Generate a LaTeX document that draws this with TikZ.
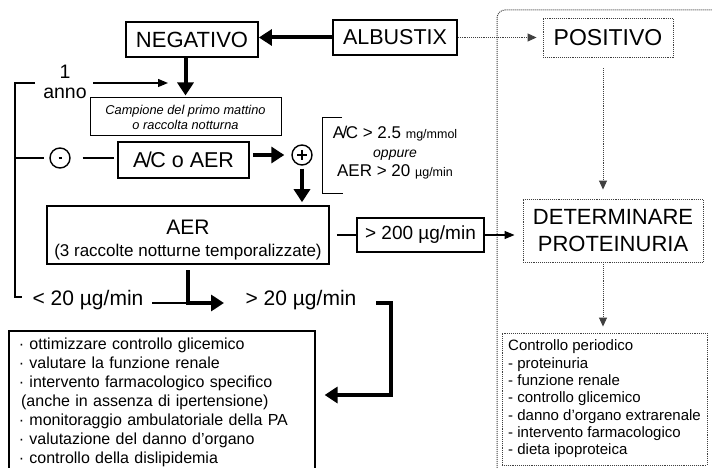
\documentclass[tikz,border=0pt]{standalone}
\usepackage{fontspec}
\setmainfont{Liberation Sans}
\usetikzlibrary{arrows.meta,calc}
\newcommand\fsz[2]{\fontsize{#1pt}{#2pt}\selectfont}
\tikzset{
  box/.style={draw, line width=1.6pt, inner sep=0pt},
  dbox/.style={draw=gray!50!black, densely dotted, line width=0.9pt, inner sep=0pt},
  fatarrow/.style={line width=4pt, -{Triangle[length=13pt,width=16pt]}},
  thinarrow/.style={line width=1.2pt, -{Triangle[length=10pt,width=8pt]}},
  dotarrow/.style={draw=gray!50!black, densely dotted, line width=0.9pt, -{Triangle[length=9pt,width=8pt]}},
  thinline/.style={line width=1.3pt},
  circ/.style={circle, draw, line width=1.4pt, minimum size=20pt, inner sep=0pt},
}
\begin{document}
\begin{tikzpicture}[x=1pt,y=-1pt]
\useasboundingbox[fill=white] (0,0) rectangle (712,468);

% right panel
\draw[gray!50!black, line width=1pt, densely dotted, rounded corners=8pt] (497,480) -- (497,10) -- (720,10);

% top row
\node[box, line width=1.8pt, minimum width=132pt, minimum height=35pt] (neg) at (192,39.5) {\fsz{22}{26}NEGATIVO};
\node[box, minimum width=124pt, minimum height=35pt] (alb) at (395,37.5) {\fsz{21.5}{25}ALBUSTIX};
\node[dbox, minimum width=130pt, minimum height=39pt] (pos) at (608,37.5) {\fsz{23}{26}POSITIVO};
\draw[fatarrow] (alb.west) -- (alb.west -| neg.east);
\draw[dotarrow, shorten >=6pt] (alb.east) -- (pos.west);

% campione
\node[draw, line width=1pt, minimum width=191pt, minimum height=38pt, inner sep=0pt, align=center, font=\itshape\fsz{12.8}{15}] (camp) at (185.5,117) {Campione del primo mattino\\o raccolta notturna};
\draw[fatarrow, shorten >=2pt] (neg.south -| camp.north) -- (camp.north);

% 1 anno
\node[font=\fsz{19.5}{20}] (one) at (65,72) {1};
\node[font=\fsz{19.5}{20}] (anno) at (65,93) {anno};
\coordinate (a1) at (93,83);
\coordinate (a2) at (168,83);
\draw[thinarrow] (a1) -- (a2);

% left bracket
\coordinate (bt) at (35,83);
\coordinate (bb) at (22,297);
\draw[thinline] (bt) -- (15,83) -- (15,297) -- (bb);

% minus circle and A/C o AER
\node[circ] (mn) at (60,158) {};
\draw[line width=1.2pt] ($(mn.center)+(-1.5,0)$) -- ($(mn.center)+(1.5,0)$);
\coordinate (b1) at (15,158);
\node[box, minimum width=131pt, minimum height=36pt] (ac) at (183.5,160) {\fsz{21.5}{25}A\kern-1.5pt/\kern-1.5pt C o AER};
\draw[thinline, shorten >=5pt] (b1) -- (mn.west);
\draw[thinline, shorten <=12pt, shorten >=3pt] (mn.east) -- (mn.east -| ac.west);

% plus circle
\node[circ] (pl) at (302,155) {};
\draw[line width=2pt] ($(pl.center)+(-5,0)$) -- ($(pl.center)+(5,0)$);
\draw[line width=2pt] ($(pl.center)+(0,-5)$) -- ($(pl.center)+(0,5)$);
\draw[fatarrow, shorten <=3pt, shorten >=7pt] (ac.east |- pl.west) -- (pl.west);

% condition bracket
\node[align=center, font=\fsz{17}{19}] (cond) at (395,153) {A\kern-1.5pt/\kern-1.5pt C > 2.5 {\fsz{12.5}{19}mg/mmol}\\{\itshape\fsz{14}{19}oppure}\\AER > 20 {\fsz{12.5}{19}µg/min}};
\draw[line width=1pt] (342,118) -- (322,118) -- (322,193) -- (343,193);

% AER box
\node[box, minimum width=282pt, minimum height=58pt] (aer) at (188,235) {};
\node[font=\fsz{21}{24}] (aert) at (188,227) {AER};
\node[font=\fsz{17}{20}] (aers) at (188,252) {(3 raccolte notturne temporalizzate)};
\draw[fatarrow, shorten <=3pt, shorten >=3pt] (pl.south) -- (pl.south |- aer.north);

% > 200
\node[box, minimum width=127pt, minimum height=34pt] (g200) at (420.5,235) {\fsz{19}{23}> 200 µg/min};
\draw[thinline, shorten <=7pt] (aer.east) -- (g200.west);

% determinare
\node[dbox, minimum width=180pt, minimum height=63pt, align=center, font=\fsz{22}{27}] (det) at (613,230.5) {DETERMINARE\\PROTEINURIA};
\draw[thinarrow, shorten >=8pt] (g200.east) -- (g200.east -| det.west);
\coordinate (vx) at (603,0);
\draw[dotarrow, shorten <=11pt, shorten >=9pt] (pos.south -| vx) -- (det.north -| vx);

% controllo periodico
\node[dbox, minimum width=205pt, minimum height=132pt, align=left, font=\fsz{15}{17.3}] (ctrl) at (604.5,399) {Controllo periodico\\- proteinuria\\- funzione renale\\- controllo glicemico\\- danno d’organo extrarenale\\- intervento farmacologico\\- dieta ipoproteica};
\draw[dotarrow, shorten >=6pt] (det.south -| vx) -- (ctrl.north -| vx);

% bottom row
\node (lt) at (88,300) {\fsz{21}{24}< 20 µg/min};
\node (gt) at (301,300) {\fsz{21}{24}> 20 µg/min};
\coordinate (c1) at (152,303);
\coordinate (c2) at (186,303);
\draw[thinline] (c1) -- (c2);
\coordinate (L1) at (188,270);
\coordinate (L2) at (224,303);
\draw[fatarrow] (L1) |- (L2);

% bottom-left list
\node[draw, line width=1.6pt, anchor=north west, minimum width=306pt, minimum height=143pt, inner sep=0pt, text width=286pt, align=left, font=\fsz{16}{19}] (list) at (8,330) {· ottimizzare controllo glicemico\\· valutare la funzione renale\\· intervento farmacologico specifico\\\hspace*{-3pt}\ (anche in assenza di ipertensione)\\· monitoraggio ambulatoriale della PA\\· valutazione del danno d’organo\\· controllo della dislipidemia};
\coordinate (R1) at (376,303);
\coordinate (R3) at (391,395);
\draw[fatarrow, shorten >=9pt] (R1) -| (R3) -- (R3 -| list.east);
\end{tikzpicture}
\end{document}
